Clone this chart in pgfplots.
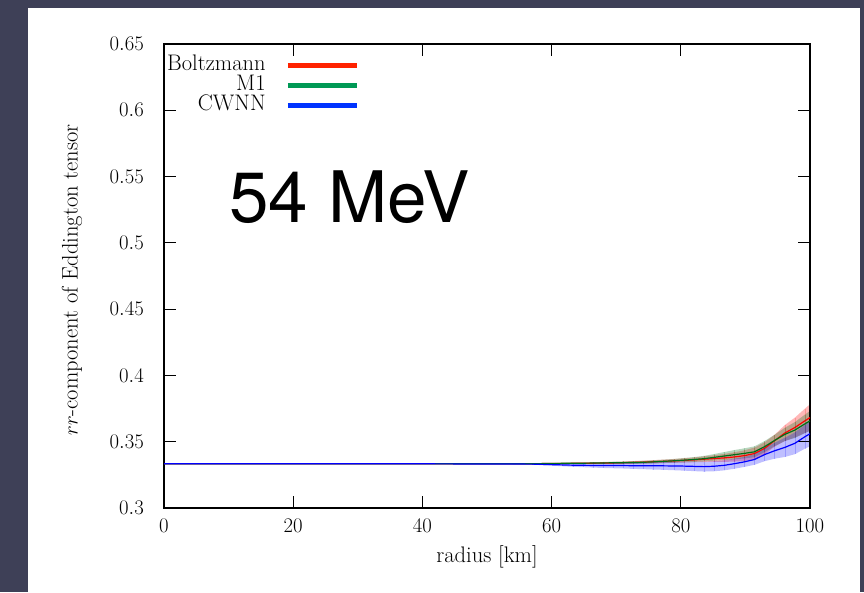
\documentclass[border=0pt]{standalone}
\usepackage{fontspec}
\usepackage{pgfplots}
\usepackage{pgfplotstable}
\pgfplotsset{compat=1.18}
\usepgfplotslibrary{fillbetween}
\newfontfamily\heros{TeX Gyre Heros}

% a layer below every axis layer, for the page background
\pgfdeclarelayer{bgfill}
\pgfplotsset{
  layers/withbg/.define layer set={bgfill,axis background,axis grid,axis ticks,
    axis lines,axis tick labels,pre main,main,axis descriptions,axis foreground}{},
}

\definecolor{slate}{RGB}{62,64,87}
\definecolor{lnred}{RGB}{255,0,0}
\definecolor{lngreen}{RGB}{0,110,25}
\definecolor{lnblue}{RGB}{0,0,255}
\definecolor{legred}{RGB}{255,34,0}
\definecolor{leggreen}{RGB}{0,153,85}
\definecolor{legblue}{RGB}{0,51,255}

% rr-component of the Eddington tensor against radius, with spreads
\pgfplotstableread{
r      red     green   blue    er      eg      eb
0      0.33333 0.33333 0.33333 0.0000  0.0000  0.0000
40     0.33333 0.33333 0.33333 0.0000  0.0000  0.0000
57.03  0.3334  0.3334  0.3331  0.0002  0.0002  0.0004
58.59  0.3335  0.3335  0.3329  0.0003  0.0003  0.0006
60.16  0.3336  0.3336  0.3327  0.0003  0.0003  0.0008
61.72  0.3336  0.3337  0.3325  0.0004  0.0004  0.0010
63.28  0.3337  0.3338  0.3323  0.0004  0.0004  0.0012
64.84  0.3337  0.3338  0.3322  0.0005  0.0005  0.0014
66.41  0.3338  0.3339  0.3321  0.0006  0.0006  0.0016
67.97  0.3339  0.3340  0.3320  0.0007  0.0007  0.0018
69.53  0.3340  0.3341  0.3320  0.0008  0.0008  0.0020
71.09  0.3342  0.3342  0.3320  0.0009  0.0009  0.0022
72.66  0.3344  0.3343  0.3319  0.0010  0.0010  0.0024
74.22  0.3346  0.3345  0.3319  0.0011  0.0011  0.0026
75.78  0.3349  0.3348  0.3318  0.0012  0.0012  0.0028
77.34  0.3352  0.3352  0.3318  0.0013  0.0013  0.0030
78.91  0.3355  0.3356  0.3317  0.0014  0.0014  0.0032
80.47  0.3359  0.3361  0.3316  0.0016  0.0016  0.0034
82.03  0.3363  0.3366  0.3314  0.0018  0.0018  0.0036
83.59  0.3368  0.3372  0.3312  0.0021  0.0021  0.0037
85.16  0.3373  0.3382  0.3315  0.0025  0.0025  0.0038
86.72  0.3378  0.3392  0.3322  0.0030  0.0030  0.0038
88.28  0.3385  0.3402  0.3334  0.0035  0.0035  0.0038
89.84  0.3395  0.3412  0.3348  0.0040  0.0038  0.0038
91.41  0.3411  0.3424  0.3366  0.0045  0.0041  0.0040
92.97  0.3450  0.3463  0.3403  0.0045  0.0042  0.0050
94.53  0.3508  0.3510  0.3432  0.0045  0.0043  0.0060
96.09  0.3565  0.3555  0.3457  0.0060  0.0050  0.0072
97.66  0.3607  0.3588  0.3488  0.0075  0.0060  0.0082
99.22  0.3658  0.3635  0.3538  0.0092  0.0070  0.0090
100    0.3682  0.3657  0.3560  0.0100  0.0075  0.0094
}\eddtab

\begin{document}
\fontsize{22.5}{26}\selectfont
\begin{tikzpicture}
\pgfsetlayers{bgfill,main}
\begin{pgfonlayer}{bgfill}
  \fill[slate] (0,0) rectangle (864pt,592pt);
  \fill[white] (28pt,0) rectangle (860pt,584pt);
\end{pgfonlayer}
\begin{axis}[
  set layers=withbg,
  at={(164pt,84pt)}, anchor=south west,
  scale only axis, width=646pt, height=464pt,
  xmin=0, xmax=100, ymin=0.3, ymax=0.65,
  xtick={0,20,40,60,80,100},
  ytick={0.3,0.35,0.4,0.45,0.5,0.55,0.6,0.65},
  tick align=inside, xtick pos=both, ytick pos=both,
  major tick length=12pt,
  tick style={line width=0.8pt, black},
  axis line style={line width=1.2pt},
  yticklabel style={anchor=east, inner sep=0pt, xshift=-20pt},
  xticklabel style={anchor=north, inner sep=0pt, yshift=-11pt},
  xlabel={radius [km]},
  ylabel={$rr$-component of Eddington tensor},
  xlabel style={at={(axis description cs:0.5,-0.1056)}, anchor=center},
  ylabel style={at={(axis description cs:-0.1424,0.4914)}, anchor=center},
  legend style={at={(axis description cs:0,1)}, anchor=north west,
    xshift=3pt, yshift=-11pt, draw=none, fill=none, inner sep=0pt,
    row sep=0pt, nodes={inner sep=0pt, text height=15pt, text depth=5pt}},
  legend cell align=right, legend plot pos=right,
  legend image code/.code={\path (0pt,0pt); \draw[#1, line width=5pt] (22pt,0pt) -- (91pt,0pt);},
]
% spreads
\addplot[name path=rt, draw=none, forget plot] table[x=r, y expr=\thisrow{red}+\thisrow{er}] {\eddtab};
\addplot[name path=rb, draw=none, forget plot] table[x=r, y expr=\thisrow{red}-\thisrow{er}] {\eddtab};
\addplot[fill=lnred, fill opacity=0.28, draw=none, forget plot] fill between[of=rt and rb];
\addplot[name path=gt, draw=none, forget plot] table[x=r, y expr=\thisrow{green}+\thisrow{eg}] {\eddtab};
\addplot[name path=gb, draw=none, forget plot] table[x=r, y expr=\thisrow{green}-\thisrow{eg}] {\eddtab};
\addplot[fill=lngreen, fill opacity=0.28, draw=none, forget plot] fill between[of=gt and gb];
\addplot[name path=bt, draw=none, forget plot] table[x=r, y expr=\thisrow{blue}+\thisrow{eb}] {\eddtab};
\addplot[name path=bb, draw=none, forget plot] table[x=r, y expr=\thisrow{blue}-\thisrow{eb}] {\eddtab};
\addplot[fill=lnblue, fill opacity=0.25, draw=none, forget plot] fill between[of=bt and bb];
% mean curves, with faint seams across each spread
\addplot[lnred, line width=1.2pt, forget plot,
  error bars/.cd, y dir=both, y explicit, error mark=none,
  error bar style={line width=0.5pt, draw opacity=0.2}]
  table[x=r, y=red, y error=er] {\eddtab};
\addplot[lngreen, line width=1.2pt, forget plot,
  error bars/.cd, y dir=both, y explicit, error mark=none,
  error bar style={line width=0.5pt, draw opacity=0.2}]
  table[x=r, y=green, y error=eg] {\eddtab};
\addplot[lnblue, line width=1.2pt, forget plot,
  error bars/.cd, y dir=both, y explicit, error mark=none,
  error bar style={line width=0.5pt, draw opacity=0.2}]
  table[x=r, y=blue, y error=eb] {\eddtab};
\addlegendimage{legred}\addlegendentry{Boltzmann}
\addlegendimage{leggreen}\addlegendentry{M1}
\addlegendimage{legblue}\addlegendentry{CWNN}
\node[anchor=base west, inner sep=0pt, font=\heros\fontsize{71}{82}\selectfont]
  at (axis cs:10.1,0.5157) {54 MeV};
\end{axis}
\end{tikzpicture}
\end{document}
